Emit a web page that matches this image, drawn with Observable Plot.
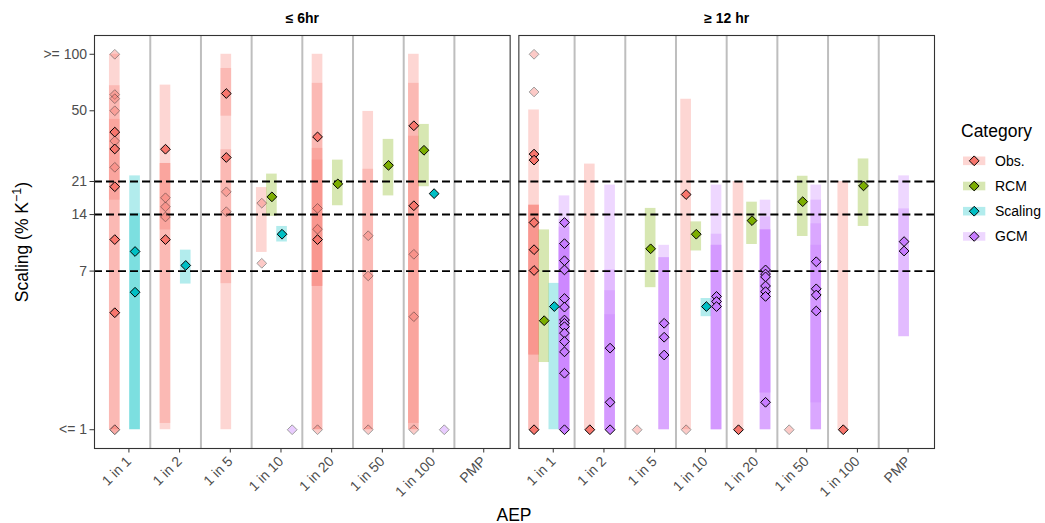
<!DOCTYPE html>
<html>
<head>
<meta charset="utf-8">
<script src="https://cdn.jsdelivr.net/npm/d3@7"></script>
<script src="https://cdn.jsdelivr.net/npm/@observablehq/plot@0.6"></script>
<style>
  html, body { margin: 0; padding: 0; background: #ffffff; }
  #chart { width: 1045px; height: 523px; }
</style>
</head>
<body>
<div id="chart"></div>
<script>
// ---------- data ----------
const categories = ["Obs.", "RCM", "Scaling", "GCM"];
const categoryColors = ["#F8766D", "#7CAE00", "#00BFC4", "#C77CFF"];
const aepLabels = ["1 in 1", "1 in 2", "1 in 5", "1 in 10", "1 in 20", "1 in 50", "1 in 100", "PMP"];
const durations = ["≤ 6hr", "≥ 12 hr"];
const yTickValues = [1, 7, 14, 21, 50, 100];
const yTickLabels = ["<= 1", "7", "14", "21", "50", ">= 100"];
const refLines = [7, 14, 21];

// ranges: [AEP, category, low, high]
const rangesShort = [
  ["1 in 1", "Obs.", 1, 100], ["1 in 1", "Obs.", 1, 68], ["1 in 1", "Obs.", 16.7, 45],
  ["1 in 1", "Scaling", 1, 22.5], ["1 in 1", "Scaling", 1, 14.2],
  ["1 in 2", "Obs.", 1, 68.5], ["1 in 2", "Obs.", 1.08, 26.2], ["1 in 2", "Obs.", 11.6, 26.2],
  ["1 in 2", "Scaling", 5.97, 9.05],
  ["1 in 5", "Obs.", 1, 100], ["1 in 5", "Obs.", 46.8, 84], ["1 in 5", "Obs.", 6, 31],
  ["1 in 10", "Obs.", 8.8, 19.5],
  ["1 in 10", "RCM", 13.7, 23],
  ["1 in 10", "Scaling", 10, 12.1],
  ["1 in 20", "Obs.", 1, 100], ["1 in 20", "Obs.", 1, 70], ["1 in 20", "Obs.", 5.8, 31.5], ["1 in 20", "Obs.", 5.8, 27.3],
  ["1 in 20", "RCM", 15.6, 27.3],
  ["1 in 50", "Obs.", 1, 49.6], ["1 in 50", "Obs.", 1, 24.4],
  ["1 in 50", "RCM", 17.6, 35.2],
  ["1 in 100", "Obs.", 1, 100], ["1 in 100", "Obs.", 1.08, 70], ["1 in 100", "Obs.", 1, 36.6],
  ["1 in 100", "RCM", 19.7, 42.3]
];
const rangesLong = [
  ["1 in 1", "Obs.", 1, 50.5], ["1 in 1", "Obs.", 1, 15.7], ["1 in 1", "Obs.", 2.5, 15.7], ["1 in 1", "Obs.", 2.5, 15.7],
  ["1 in 1", "RCM", 2.28, 11.6],
  ["1 in 1", "Scaling", 1, 6.02],
  ["1 in 1", "GCM", 1, 17.6], ["1 in 1", "GCM", 1, 13.2], ["1 in 1", "GCM", 1, 12], ["1 in 1", "GCM", 1, 9.8], ["1 in 1", "GCM", 1, 9.8], ["1 in 1", "GCM", 1, 9.8],
  ["1 in 2", "Obs.", 1, 26],
  ["1 in 2", "GCM", 1, 20.1], ["1 in 2", "GCM", 1, 7.1], ["1 in 2", "GCM", 1, 5.5], ["1 in 2", "GCM", 1, 4.1],
  ["1 in 5", "RCM", 5.71, 15.1],
  ["1 in 5", "GCM", 1, 9.6], ["1 in 5", "GCM", 1, 8.25], ["1 in 5", "GCM", 1, 8.25],
  ["1 in 10", "Obs.", 1, 57.6],
  ["1 in 10", "RCM", 8.96, 12.8],
  ["1 in 10", "Scaling", 4.0, 5.0],
  ["1 in 10", "GCM", 1, 20.1], ["1 in 10", "GCM", 1, 11], ["1 in 10", "GCM", 1, 9.6], ["1 in 10", "GCM", 1, 9.6],
  ["1 in 20", "Obs.", 1, 21],
  ["1 in 20", "RCM", 9.7, 16.3],
  ["1 in 20", "GCM", 1, 16.7], ["1 in 20", "GCM", 1, 13.6], ["1 in 20", "GCM", 1.57, 11.6], ["1 in 20", "GCM", 1.57, 11.6], ["1 in 20", "GCM", 1, 11.6],
  ["1 in 50", "RCM", 10.7, 22.4],
  ["1 in 50", "GCM", 1, 20.1], ["1 in 50", "GCM", 1, 16.7], ["1 in 50", "GCM", 1, 12.5], ["1 in 50", "GCM", 1.39, 9.6],
  ["1 in 100", "Obs.", 1, 21],
  ["1 in 100", "RCM", 12.1, 27.7],
  ["PMP", "GCM", 3.13, 22.5], ["PMP", "GCM", 3.13, 15]
];

// points: [AEP, category, value, solid (1) or faded (0)]
const pointsShort = [
  ["1 in 1", "Obs.", 100, 0], ["1 in 1", "Obs.", 61, 0], ["1 in 1", "Obs.", 58, 0], ["1 in 1", "Obs.", 50, 0],
  ["1 in 1", "Obs.", 38.5, 1], ["1 in 1", "Obs.", 34.5, 0], ["1 in 1", "Obs.", 31.3, 1], ["1 in 1", "Obs.", 25, 0],
  ["1 in 1", "Obs.", 19.7, 1], ["1 in 1", "Obs.", 10.3, 1], ["1 in 1", "Obs.", 4.2, 1], ["1 in 1", "Obs.", 1, 0], ["1 in 1", "Obs.", 1, 0],
  ["1 in 1", "Scaling", 8.9, 1], ["1 in 1", "Scaling", 5.4, 1],
  ["1 in 2", "Obs.", 31.2, 1], ["1 in 2", "Obs.", 17.2, 0], ["1 in 2", "Obs.", 15.4, 0], ["1 in 2", "Obs.", 13.6, 0], ["1 in 2", "Obs.", 10.3, 1],
  ["1 in 2", "Scaling", 7.5, 1],
  ["1 in 5", "Obs.", 61.8, 1], ["1 in 5", "Obs.", 28.2, 1], ["1 in 5", "Obs.", 18.5, 0], ["1 in 5", "Obs.", 14.5, 0],
  ["1 in 10", "Obs.", 16.1, 0], ["1 in 10", "Obs.", 7.7, 0],
  ["1 in 10", "RCM", 17.4, 1],
  ["1 in 10", "Scaling", 11.0, 1],
  ["1 in 10", "GCM", 1, 0],
  ["1 in 20", "Obs.", 36.3, 1], ["1 in 20", "Obs.", 15.1, 0], ["1 in 20", "Obs.", 11.7, 0], ["1 in 20", "Obs.", 10.3, 1], ["1 in 20", "Obs.", 1, 0],
  ["1 in 20", "RCM", 20.4, 1],
  ["1 in 50", "Obs.", 10.8, 0], ["1 in 50", "Obs.", 6.6, 0], ["1 in 50", "Obs.", 1, 0],
  ["1 in 50", "RCM", 25.6, 1],
  ["1 in 100", "Obs.", 41.6, 1], ["1 in 100", "Obs.", 15.6, 1], ["1 in 100", "Obs.", 8.6, 0], ["1 in 100", "Obs.", 4.0, 0], ["1 in 100", "Obs.", 1, 0],
  ["1 in 100", "RCM", 30.8, 1],
  ["1 in 100", "Scaling", 18.1, 1],
  ["1 in 100", "GCM", 1, 0]
];
const pointsLong = [
  ["1 in 1", "Obs.", 100, 0], ["1 in 1", "Obs.", 63, 0], ["1 in 1", "Obs.", 29.4, 1], ["1 in 1", "Obs.", 27.3, 1],
  ["1 in 1", "Obs.", 12.7, 1], ["1 in 1", "Obs.", 9.1, 1], ["1 in 1", "Obs.", 7.05, 1], ["1 in 1", "Obs.", 1, 1],
  ["1 in 1", "RCM", 3.81, 1],
  ["1 in 1", "Scaling", 4.53, 1],
  ["1 in 1", "GCM", 12.7, 1], ["1 in 1", "GCM", 9.8, 1], ["1 in 1", "GCM", 7.95, 1], ["1 in 1", "GCM", 7.1, 1],
  ["1 in 1", "GCM", 5.0, 1], ["1 in 1", "GCM", 4.5, 1], ["1 in 1", "GCM", 3.84, 1], ["1 in 1", "GCM", 3.69, 1],
  ["1 in 1", "GCM", 3.54, 1], ["1 in 1", "GCM", 3.27, 1], ["1 in 1", "GCM", 2.95, 1], ["1 in 1", "GCM", 2.6, 1],
  ["1 in 1", "GCM", 2.0, 1], ["1 in 1", "GCM", 1, 1],
  ["1 in 2", "Obs.", 1, 1],
  ["1 in 2", "GCM", 2.72, 1], ["1 in 2", "GCM", 1.40, 1], ["1 in 2", "GCM", 1, 1],
  ["1 in 5", "Obs.", 1, 0],
  ["1 in 5", "RCM", 9.2, 1],
  ["1 in 5", "GCM", 3.69, 1], ["1 in 5", "GCM", 3.11, 1], ["1 in 5", "GCM", 2.5, 1],
  ["1 in 10", "Obs.", 17.9, 1], ["1 in 10", "Obs.", 1, 0],
  ["1 in 10", "RCM", 11.0, 1],
  ["1 in 10", "Scaling", 4.53, 1],
  ["1 in 10", "GCM", 5.13, 1], ["1 in 10", "GCM", 4.82, 1], ["1 in 10", "GCM", 4.53, 1],
  ["1 in 20", "Obs.", 1, 1],
  ["1 in 20", "RCM", 13.0, 1],
  ["1 in 20", "GCM", 7.1, 1], ["1 in 20", "GCM", 6.75, 1], ["1 in 20", "GCM", 6.52, 1], ["1 in 20", "GCM", 5.83, 1],
  ["1 in 20", "GCM", 5.44, 1], ["1 in 20", "GCM", 5.13, 1], ["1 in 20", "GCM", 1.40, 1],
  ["1 in 50", "Obs.", 1, 0],
  ["1 in 50", "RCM", 16.4, 1],
  ["1 in 50", "GCM", 7.85, 1], ["1 in 50", "GCM", 5.63, 1], ["1 in 50", "GCM", 5.22, 1], ["1 in 50", "GCM", 4.29, 1],
  ["1 in 100", "Obs.", 1, 1],
  ["1 in 100", "RCM", 19.9, 1],
  ["PMP", "GCM", 10.05, 1], ["PMP", "GCM", 8.95, 1]
];

// ---------- dodge positioning (like position_dodge over present groups) ----------
function layout(panel, ranges, points) {
  const present = new Map();
  for (const [aep, cat] of [...ranges, ...points]) {
    if (!present.has(aep)) present.set(aep, new Set());
    present.get(aep).add(cat);
  }
  const pos = (aep, cat) => {
    const cats = categories.filter(c => present.get(aep).has(c));
    const n = cats.length, i = cats.indexOf(cat), w = 0.8 / n;
    return aepLabels.indexOf(aep) + 1 + (i - (n - 1) / 2) * w;
  };
  return {
    bars: ranges.map(([aep, cat, lo, hi]) => ({panel, cat, x: pos(aep, cat), lo, hi})),
    pts: points.map(([aep, cat, v, solid]) => ({panel, cat, x: pos(aep, cat), v, solid}))
  };
}
const A = layout(durations[0], rangesShort, pointsShort);
const B = layout(durations[1], rangesLong, pointsLong);
const bars = [...A.bars, ...B.bars];
const pts = [...A.pts, ...B.pts];

const halfBar = 0.105;
const dotR = 4.4;
const font = "'Liberation Sans', Arial, Helvetica, sans-serif";

const chart = Plot.plot({
  width: 1045,
  height: 523,
  marginLeft: 94,
  marginRight: 111,
  marginTop: 35,
  marginBottom: 75,
  style: {fontFamily: font, background: "white", overflow: "visible"},
  x: {type: "linear", domain: [0.4, aepLabels.length + 0.6]},
  y: {type: "log", domain: [Math.pow(10, -0.1), Math.pow(10, 2.1)]},
  fx: {domain: durations, paddingInner: 0.0205, paddingOuter: 0, round: false},
  color: {domain: categories, range: categoryColors},
  marks: [
    Plot.ruleX(d3.range(1.5, aepLabels.length), {stroke: "#BEBEBE", strokeWidth: 2}),
    Plot.rect(bars, {
      fx: "panel", x1: d => d.x - halfBar, x2: d => d.x + halfBar, y1: "lo", y2: "hi",
      fill: "cat", fillOpacity: 0.3
    }),
    Plot.ruleY(refLines, {stroke: "black", strokeWidth: 1.9, strokeDasharray: "8,4"}),
    Plot.dot(pts.filter(d => !d.solid), {
      fx: "panel", x: "x", y: "v", symbol: "diamond2", r: dotR,
      fill: "cat", stroke: "black", strokeWidth: 1, opacity: 0.38
    }),
    Plot.dot(pts.filter(d => d.solid), {
      fx: "panel", x: "x", y: "v", symbol: "diamond2", r: dotR,
      fill: "cat", stroke: "black", strokeWidth: 1
    }),
    Plot.frame({stroke: "#333333", strokeWidth: 1.1}),
    Plot.axisY(yTickValues, {
      text: d => yTickLabels[yTickValues.indexOf(d)],
      tickSize: 4.5, tickPadding: 3, fontSize: 14, stroke: "#333333", fill: "#4D4D4D", label: null
    }),
    Plot.axisX(d3.range(1, aepLabels.length + 1), {
      text: i => aepLabels[i - 1],
      tickRotate: -45, tickSize: 4.5, tickPadding: 6, dx: 4, fontSize: 14,
      stroke: "#333333", fill: "#4D4D4D", label: null
    }),
    Plot.axisFx({
      anchor: "top", tickSize: 0, tickPadding: 13, fontSize: 14, fontWeight: "bold",
      fill: "black", label: null
    })
  ]
});
document.getElementById("chart").appendChild(chart);

// ---------- axis titles and legend ----------
const svg = d3.select(chart);
svg.append("text")
  .attr("x", 514).attr("y", 521)
  .attr("text-anchor", "middle")
  .attr("font-family", font).attr("font-size", 17.5).attr("fill", "black")
  .text("AEP");

const yt = svg.append("text")
  .attr("transform", "translate(28,242) rotate(-90)")
  .attr("text-anchor", "middle")
  .attr("font-family", font).attr("font-size", 17.5).attr("fill", "black");
yt.append("tspan").text("Scaling (% K");
yt.append("tspan").attr("dy", -7).attr("font-size", 12.5).text("\u22121");
yt.append("tspan").attr("dy", 7).text(")");

const leg = svg.append("g").attr("font-family", font).attr("text-anchor", "start");
leg.append("text").attr("x", 961).attr("y", 136.5).attr("text-anchor", "start")
  .attr("font-size", 17.5).attr("fill", "black").text("Category");
const diamondPath = d3.symbol(d3.symbolDiamond2, Math.PI * dotR * dotR)();
categories.forEach((c, i) => {
  const cy = 160.8 + i * 25.2;
  leg.append("rect").attr("x", 963).attr("y", cy - 4.3).attr("width", 22.3).attr("height", 8.6)
    .attr("fill", categoryColors[i]).attr("fill-opacity", 0.3);
  leg.append("path").attr("d", diamondPath).attr("transform", `translate(974.2,${cy})`)
    .attr("fill", categoryColors[i]).attr("stroke", "black").attr("stroke-width", 1);
  leg.append("text").attr("x", 995).attr("y", cy + 5).attr("text-anchor", "start")
    .attr("font-size", 14).attr("fill", "black").text(c);
});
</script>
</body>
</html>
